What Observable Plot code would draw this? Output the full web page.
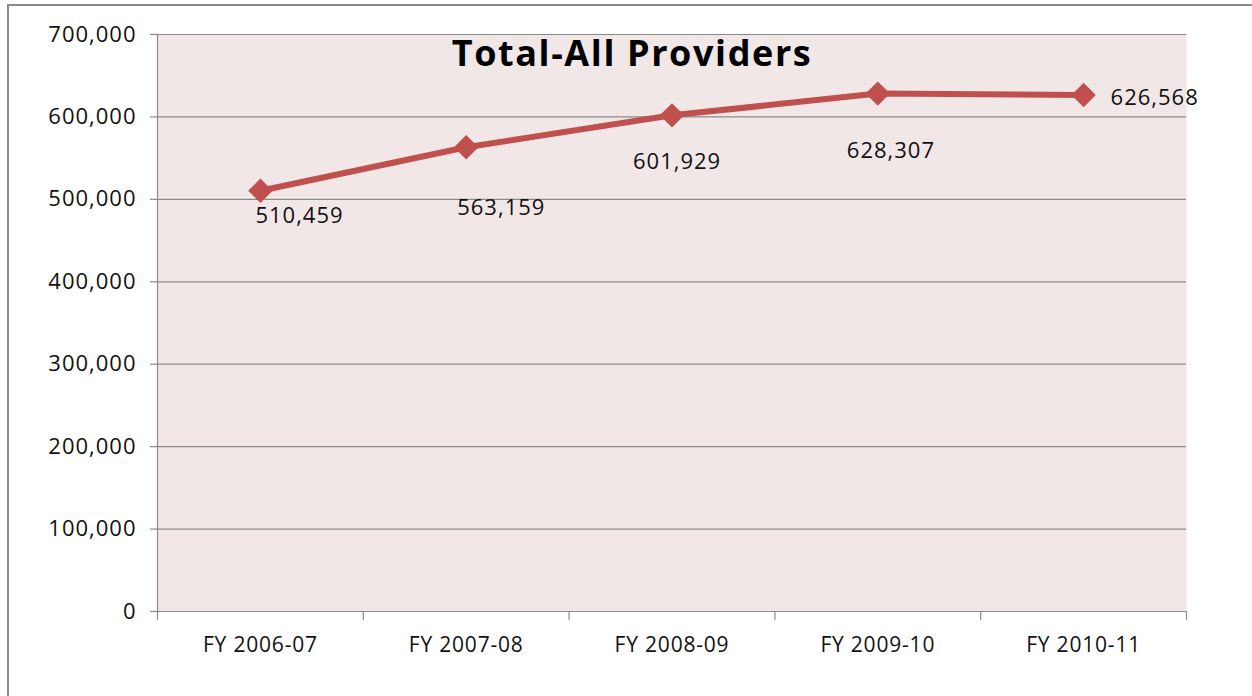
<!DOCTYPE html>
<html>
<head>
<meta charset="utf-8">
<script src="https://cdn.jsdelivr.net/npm/d3@7"></script>
<script src="https://cdn.jsdelivr.net/npm/@observablehq/plot@0.6"></script>
<style>
  html, body { margin: 0; padding: 0; background: #fff; }
  #wrap { position: relative; width: 1252px; height: 696px; overflow: hidden; }
  #border { position: absolute; left: 7px; top: 4px; width: 1260px; height: 720px;
            border-left: 2px solid #8a8a8a; border-top: 2px solid #8a8a8a; box-sizing: border-box; }
  #chart { position: absolute; left: 0; top: 0; }
  svg text { font-family: "Open Sans", sans-serif; letter-spacing: 1px; }
  svg g[font-size="21"] text { letter-spacing: 0.8px; }
  svg g[font-size="36"] text { letter-spacing: 1.6px; }
</style>
</head>
<body>
<div id="wrap"><div id="border"></div><div id="chart"></div></div>
<script>
const title = "Total-All Providers";
const categories = ["FY 2006-07", "FY 2007-08", "FY 2008-09", "FY 2009-10", "FY 2010-11"];
const values = [510459, 563159, 601929, 628307, 626568];
const yTicks = [0, 100000, 200000, 300000, 400000, 500000, 600000, 700000];

// label layout (pixel nudges for the data labels, as placed in the original)
const labelDx = [-5, -9, -39, -31, 27];
const labelDy = [25, 61, 47, 57, 3];

const data = categories.map((c, i) => ({i, category: c, value: values[i], dx: labelDx[i], dy: labelDy[i]}));
const centers = categories.map((c, i) => i + 0.5);
const boundaries = d3.range(categories.length + 1);
const fmt = d3.format(",");
const red = "#C0504D";
const gray = "#8a8a8a";

const textMarks = data.map(d => Plot.text([d], {
  x: d => d.i + 0.5, y: "value", text: d => fmt(d.value),
  dx: d.dx, dy: d.dy, textAnchor: "start", lineAnchor: "middle",
  fontSize: 22, fill: "#111"
}));

const chart = Plot.plot({
  width: 1252,
  height: 696,
  marginLeft: 157,
  marginRight: 66,
  marginTop: 34,
  marginBottom: 85,
  style: {background: "transparent", fontFamily: "Open Sans, sans-serif"},
  x: {type: "linear", domain: [0, categories.length]},
  y: {domain: [0, 700000]},
  marks: [
    Plot.frame({fill: "#F2E7E7", stroke: null}),
    Plot.gridY(yTicks, {stroke: gray, strokeOpacity: 1, strokeWidth: 1.2}),
    Plot.ruleX([0], {stroke: gray, strokeWidth: 1.2}),
    Plot.axisY({ticks: yTicks, tickFormat: fmt, tickSize: 7, tickPadding: 14, fontSize: 22, stroke: gray, strokeWidth: 1.2, color: "#111", label: null}),
    Plot.axisX({ticks: boundaries, tickFormat: () => "", tickSize: 9, stroke: gray, strokeWidth: 1.2, label: null}),
    Plot.axisX({ticks: centers, tickFormat: d => categories[Math.round(d - 0.5)], tickSize: 0, tickPadding: 26, fontSize: 21, color: "#111", label: null}),
    Plot.line(data, {x: d => d.i + 0.5, y: "value", stroke: red, strokeWidth: 6}),
    Plot.dot(data, {x: d => d.i + 0.5, y: "value", symbol: "diamond2", r: 11, fill: red, stroke: null}),
    ...textMarks,
    Plot.text([title], {frameAnchor: "top", dx: -40, dy: 6, fontSize: 36, fontWeight: "bold", fill: "#000"})
  ]
});
document.getElementById("chart").appendChild(chart);
</script>
</body>
</html>
